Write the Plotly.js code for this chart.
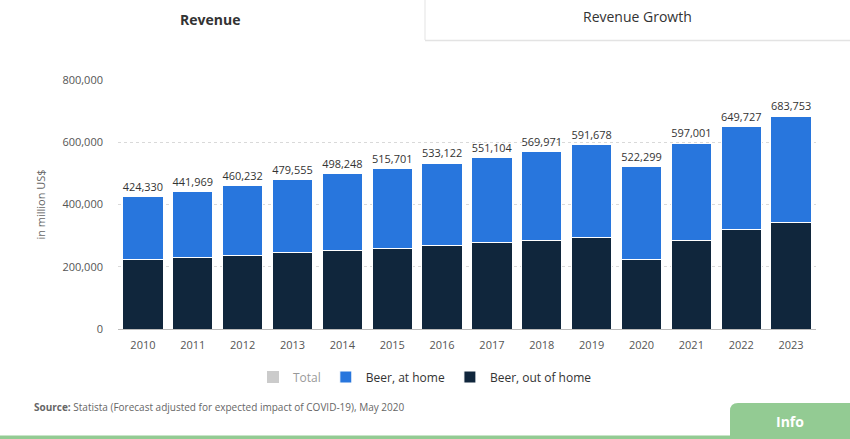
<!DOCTYPE html>
<html>
<head>
<meta charset="utf-8">
<script src="https://cdn.plot.ly/plotly-3.0.1.min.js"></script>
<style>
html,body{margin:0;padding:0;background:#fff;}
#chart{width:850px;height:439px;}
</style>
</head>
<body>
<div id="chart"></div>
<script>
// ---- data ----
const years = ["2010","2011","2012","2013","2014","2015","2016","2017","2018","2019","2020","2021","2022","2023"];
const totalRevenue = [424330,441969,460232,479555,498248,515701,533122,551104,569971,591678,522299,597001,649727,683753];
const beerOutOfHome = [222600,229000,235500,245000,251500,258000,267500,277000,283500,295000,223600,283500,321000,342000];
const beerAtHome = [201730,212969,224732,234555,246748,257701,265622,274104,286471,296678,298699,313501,328727,341753];
const yTicks = [0,200000,400000,600000,800000];

// ---- geometry helpers (pixel -> paper) ----
const W = 850, H = 439, ML = 118, MR = 34, MT = 80, MB = 110;
const PW = W - ML - MR, PH = H - MT - MB;
const px = x => (x - ML) / PW;
const py = y => (H - MB - y) / PH;

const fmt = v => v.toLocaleString('en-US');

const FONT = '"Open Sans", "DejaVu Sans", sans-serif';

const traces = [
  {
    type: 'bar', name: 'Total', x: years, y: totalRevenue,
    visible: 'legendonly', legendrank: 1,
    marker: {color: '#999999'}
  },
  {
    type: 'bar', name: 'Beer, out of home', x: years, y: beerOutOfHome,
    legendrank: 3,
    marker: {color: '#10263c', line: {color: '#ffffff', width: 1}},
    hoverinfo: 'x+y'
  },
  {
    type: 'bar', name: 'Beer, at home', x: years, y: beerAtHome,
    legendrank: 2,
    marker: {color: '#2876dd', line: {color: '#ffffff', width: 1}},
    text: totalRevenue.map(fmt),
    textposition: 'outside',
    cliponaxis: false,
    textfont: {family: FONT, size: 11.5, color: '#333333'},
    hoverinfo: 'x+y'
  }
];

const annotations = [
  {xref:'paper', yref:'paper', x: px(210), y: py(19), text:'<b>Revenue</b>', showarrow:false,
   xanchor:'center', yanchor:'middle', font:{family:FONT, size:14, color:'#333333'}},
  {xref:'paper', yref:'paper', x: px(637), y: py(17), text:'Revenue Growth', showarrow:false,
   xanchor:'center', yanchor:'middle', font:{family:FONT, size:14, color:'#333333'}},
  {xref:'paper', yref:'paper', x: px(32), y: py(407), text:'<b>Source:</b> Statista (Forecast adjusted for expected impact of COVID-19), May 2020', showarrow:false,
   xanchor:'left', yanchor:'middle', font:{family:FONT, size:10, color:'#666666'}},
  {xref:'paper', yref:'paper', x: px(790), y: py(421), text:'<b>Info</b>', showarrow:false,
   xanchor:'center', yanchor:'middle', font:{family:FONT, size:14, color:'#ffffff'}}
];

const shapes = [
  // tab border
  {type:'line', xref:'paper', yref:'paper', x0: px(425), x1: px(425), y0: py(0), y1: py(40), line:{color:'#e3e3e3', width:1}},
  {type:'line', xref:'paper', yref:'paper', x0: px(425), x1: px(850), y0: py(40.5), y1: py(40.5), line:{color:'#e3e3e3', width:1.5}},
  // info tab
  {type:'path', xref:'paper', yref:'paper',
   path: `M ${px(730)} ${py(437)} L ${px(730)} ${py(411)} Q ${px(730)} ${py(403)} ${px(738)} ${py(403)} L ${px(850)} ${py(403)} L ${px(850)} ${py(437)} Z`,
   fillcolor:'#93cb93', line:{width:0}},
  // bottom green line
  {type:'rect', xref:'paper', yref:'paper', x0: px(0), x1: px(850), y0: py(435.5), y1: py(439),
   fillcolor:'#93cb93', line:{width:0}}
];

const layout = {
  width: W, height: H,
  margin: {l: ML, r: MR, t: MT, b: MB},
  paper_bgcolor: '#ffffff', plot_bgcolor: '#ffffff',
  barmode: 'stack', bargap: 0.19,
  showlegend: true,
  legend: {orientation:'h', traceorder:'normal', x: px(425), xanchor:'center', y: py(377), yanchor:'middle',
           font:{family:FONT, size:12, color:'#333333'}, itemwidth: 30, tracegroupgap: 0},
  font: {family: FONT},
  xaxis: {
    type: 'category', showgrid:false, zeroline:false,
    showline:true, linecolor:'#bbbbbb', linewidth:1,
    tickfont:{family:FONT, size:11, color:'#555555'}, ticks:'', ticklabelstandoff: 6
  },
  yaxis: {
    range:[0, 800000], tickvals: yTicks, ticktext: yTicks.map(fmt),
    showgrid:true, gridcolor:'#d9d9d9', griddash:'dot', gridwidth:1,
    zeroline:false, showline:false,
    tickfont:{family:FONT, size:11, color:'#555555'}, ticks:'', ticklabelstandoff: 14,
    title:{text:'in million US$', font:{family:FONT, size:11, color:'#666666'}, standoff: 14}
  },
  annotations: annotations,
  shapes: shapes
};

Plotly.newPlot('chart', traces, layout, {displayModeBar:false, staticPlot:true});
</script>
</body>
</html>
